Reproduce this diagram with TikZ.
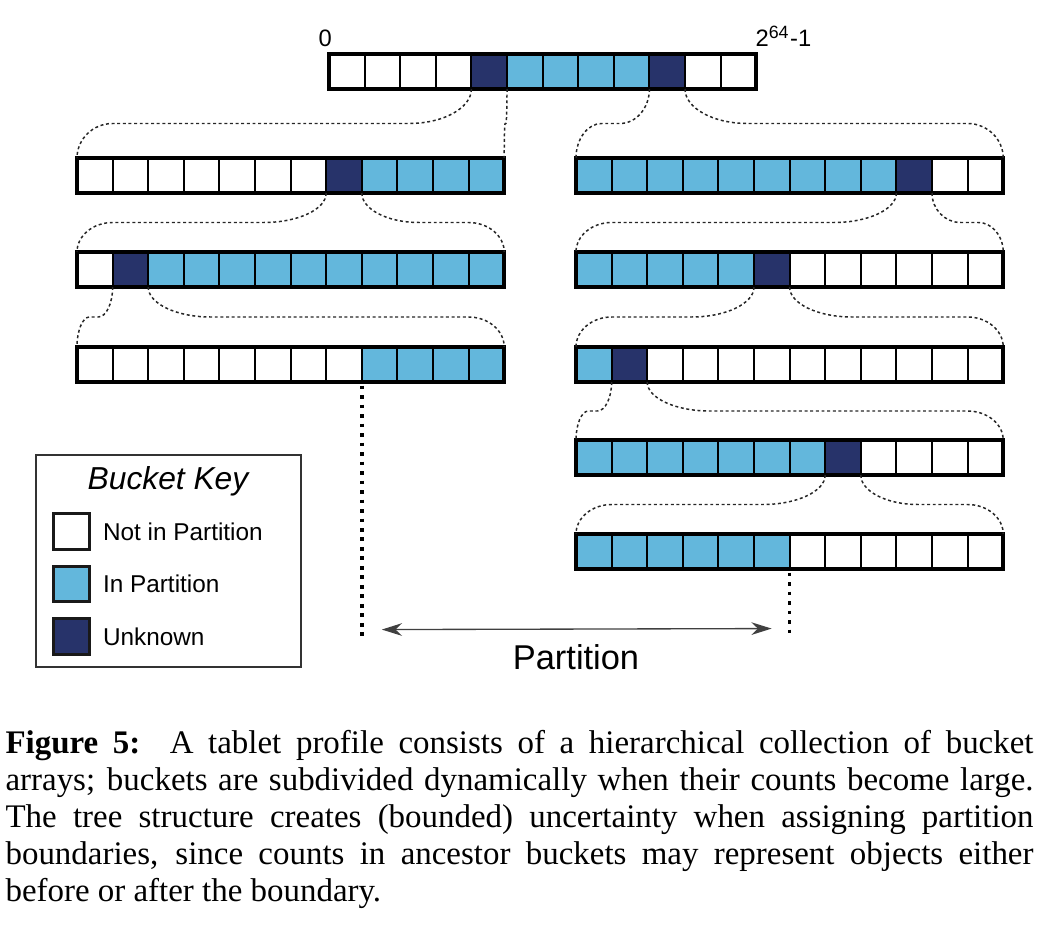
\documentclass[tikz,border=0pt]{standalone}
\usepackage{fontspec}
\setmainfont{Liberation Serif}
\setsansfont{Liberation Sans}
\usetikzlibrary{calc, positioning}
\usetikzlibrary{arrows.meta}
\tikzset{>={Stealth[width=1.5mm,length=2.4mm]}}

\colorlet{N}{white}
\definecolor{P}{HTML}{63B7DC}
\definecolor{U}{HTML}{27336A}

% one array of 12 buckets: name, left x, top y, fill list
\newcommand{\bucketrow}[4]{%
  \foreach \col [count=\i from 0] in {#4}
    \node[bucket, fill=\col] (#1-\i) at (#2+\i*35.6, #3) {};
  \draw[rowframe] (#1-0.north west) rectangle (#1-11.south east);
}

% dotted brace from a parent bucket corner to a child row corner
\newcommand{\splitlink}[2]{%
  \draw[link] let \p1=(#1), \p2=(#2), \n1={(\y1+\y2)/2},
      \n2={(\x2>\x1)?1:-1}, \n3={min(0.4*abs(\x2-\x1),21)},
      \n4={min(0.35*abs(\x2-\x1),12)},
      \n5={\y1+0.55*(\n1-\y1)}, \n6={\y2+0.55*(\n1-\y2)} in
    (\p1) .. controls (\x1,{\n5*1pt}) and ({\x1+0.45*\n2*\n3*1pt},{\n1*1pt}) .. ({\x1+\n2*\n3*1pt},{\n1*1pt})
    -- ({\x2-\n2*\n4*1pt},{\n1*1pt}) .. controls ({\x2-0.45*\n2*\n4*1pt},{\n1*1pt}) and (\x2,{\n6*1pt}) .. (\p2);
}

\begin{document}
\begin{tikzpicture}[x=0.337pt, y=-0.337pt,
    bucket/.style={rectangle, draw=black, line width=0.7pt, inner sep=0, outer sep=0, minimum width=12pt, minimum height=11.8pt, anchor=north west},
    rowframe/.style={draw=black, line width=1.2pt},
    link/.style={draw=black!85, line width=0.5pt, dash pattern=on 1pt off 0.9pt},
    cut/.style={draw=black, line width=1.2pt, dash pattern=on 1.2pt off 2pt},
    swatch/.style={rectangle, draw=black!90, line width=1pt, inner sep=0, outer sep=0, minimum size=12.1pt},
    keylabel/.style={inner sep=0, font=\sffamily\fontsize{8.2}{10}\selectfont},
    endlabel/.style={inner sep=0, anchor=base west, font=\sffamily\fontsize{8}{10}\selectfont}]

    \useasboundingbox (0,0) rectangle (1060,930);

    %Buckets
    \bucketrow{top}{329}{54}{N,N,N,N,U,P,P,P,P,U,N,N}
    \bucketrow{l1}{77}{158}{N,N,N,N,N,N,N,U,P,P,P,P}
    \bucketrow{l2}{77}{252}{N,U,P,P,P,P,P,P,P,P,P,P}
    \bucketrow{l3}{77}{347}{N,N,N,N,N,N,N,N,P,P,P,P}
    \bucketrow{r1}{576}{158}{P,P,P,P,P,P,P,P,P,U,N,N}
    \bucketrow{r2}{576}{252}{P,P,P,P,P,U,N,N,N,N,N,N}
    \bucketrow{r3}{576}{347}{P,U,N,N,N,N,N,N,N,N,N,N}
    \bucketrow{r4}{576}{440}{P,P,P,P,P,P,P,U,N,N,N,N}
    \bucketrow{r5}{576}{534}{P,P,P,P,P,P,N,N,N,N,N,N}

    \node[endlabel] (low) at (318,47) {0};
    \node[endlabel] (high) at (755,47) {2\textsuperscript{64}-1};

    %Lines
    \foreach \src/\k/\dst in {top/4/l1, top/9/r1, l1/7/l2, l2/1/l3, r1/9/r2, r2/5/r3, r3/1/r4, r4/7/r5} {
      \splitlink{\src-\k.south west}{\dst-0.north west}
      \splitlink{\src-\k.south east}{\dst-11.north east}
    }

    \draw[cut] ([yshift=-1.2pt]l3-8.south west) -- ++(0,252) coordinate (cutL);
    \draw[cut] ([yshift=-1.2pt]r5-6.south west) -- ++(0,64) coordinate (cutR);
    \draw[<->, draw=black!75, line width=0.45pt] ($(cutL)+(20,-8)$) coordinate (spanL) -- ($(cutR)+(-18,-8)$) coordinate (spanR);
    \node[inner sep=0, font=\sffamily\fontsize{11.6}{14}\selectfont] (partlabel) at (576,657) {Partition};

    %Key
    \draw[draw=black!80, line width=0.5pt] (36,455) rectangle (301,667);
    \node[font=\sffamily\itshape\fontsize{10.7}{13}\selectfont] (keytitle) at (168,481) {Bucket Key};
    \node[swatch, fill=N] (keyN) at (71.5,531.5) {};
    \node[swatch, fill=P] (keyP) at (71.5,584) {};
    \node[swatch, fill=U] (keyU) at (71.5,636.5) {};
    \node[keylabel, right=4.4pt of keyN] (keyNtext) {Not in Partition};
    \node[keylabel, right=4.4pt of keyP] (keyPtext) {In Partition};
    \node[keylabel, right=4.4pt of keyU] (keyUtext) {Unknown};

    %Caption
    \node[anchor=north west, inner sep=0, text width=346.4pt, align=justify, font=\fontsize{11.1}{12.47}\selectfont] (caption) at (5,730)
      {\textbf{Figure 5:}\ \ A tablet profile consists of a hierarchical collection of bucket\linebreak
       arrays; buckets are subdivided dynamically when their counts become large.\linebreak
       The tree structure creates (bounded) uncertainty when assigning partition\linebreak
       boundaries, since counts in ancestor buckets may represent objects either\linebreak
       before or after the boundary.};

\end{tikzpicture}
\end{document}
